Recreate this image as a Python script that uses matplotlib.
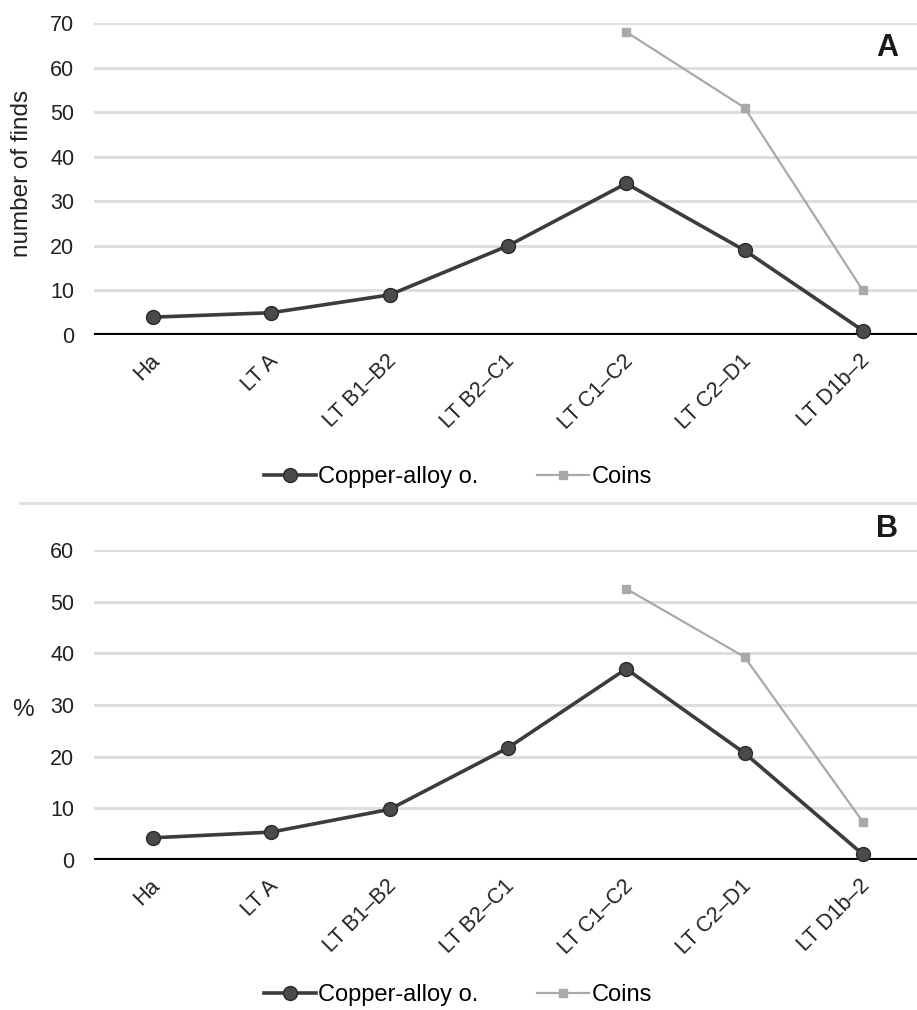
import matplotlib
matplotlib.use("Agg")
import matplotlib.pyplot as plt
from matplotlib import font_manager
from matplotlib.lines import Line2D
from matplotlib.transforms import ScaledTranslation

periods = ["Ha", "LT A", "LT B1–B2", "LT B2–C1", "LT C1–C2", "LT C2–D1", "LT D1b–2"]

# panel A: number of finds
copper_counts = [4, 5, 9, 20, 34, 19, 1]
coin_counts = [None, None, None, None, 68, 51, 10]

# panel B: share in %
copper_pct = [4.3, 5.4, 9.8, 21.7, 37.0, 20.7, 1.1]
coin_pct = [None, None, None, None, 52.5, 39.3, 7.4]

COPPER = "#3c3c3c"
COINS = "#a9a9a9"
GRID = "#dedede"

plt.rcParams["font.family"] = ["Liberation Sans", "DejaVu Sans"]
installed = {f.name for f in font_manager.fontManager.ttflist}
label_font = "Liberation Sans Narrow" if "Liberation Sans Narrow" in installed else "Liberation Sans"

fig = plt.figure(figsize=(9.17, 10.10), dpi=100)


def to_xy(values):
    xs = [i for i, v in enumerate(values) if v is not None]
    ys = [v for v in values if v is not None]
    return xs, ys


def draw_panel(rect, copper, coins, ymax, ylabel, ylabel_pos, tag, tag_pos, legend_y):
    ax = fig.add_axes(rect)
    ax.set_xlim(-0.5, 6.5)
    ax.set_ylim(0, ymax)
    for y in range(10, ymax + 1, 10):
        ax.axhline(y, color=GRID, lw=2.2, zorder=0)
    ax.axhline(0, color="black", lw=3, zorder=1)

    cx, cy = to_xy(coins)
    ax.plot(cx, cy, color=COINS, lw=1.6, marker="s", ms=6, mec=COINS, mfc=COINS,
            zorder=2, clip_on=False, label="Coins")
    kx, ky = to_xy(copper)
    ax.plot(kx, ky, color=COPPER, lw=2.6, marker="o", ms=10, mec="#2a2a2a", mfc="#4a4a4a",
            zorder=3, clip_on=False, label="Copper-alloy o.")

    ax.set_yticks(range(0, ymax + 1, 10))
    ax.set_xticks(range(len(periods)))
    ax.set_xticklabels(periods, rotation=45, ha="right", rotation_mode="anchor")
    ax.tick_params(axis="both", length=0, labelsize=15.5, colors="#222222")
    ax.tick_params(axis="y", pad=14)
    ax.tick_params(axis="x", pad=11)
    shift = ScaledTranslation(-4 / 100, 0, fig.dpi_scale_trans)
    for lbl in ax.get_xticklabels():
        lbl.set_transform(lbl.get_transform() + shift)
    for s in ax.spines.values():
        s.set_visible(False)

    fig.text(ylabel_pos[0], ylabel_pos[1], ylabel, rotation=90 if len(ylabel) > 1 else 0,
             ha="center", va="center", fontsize=17.5, color="#222222")
    fig.text(tag_pos[0], tag_pos[1], tag, ha="center", va="center", fontsize=22,
             fontweight="bold", family=label_font, color="#1a1a1a")

    handles, labels = ax.get_legend_handles_labels()
    fig.legend(handles[::-1], labels[::-1], loc="center", ncol=2, frameon=False,
               bbox_to_anchor=(458 / 917, 1 - legend_y / 1010), fontsize=17,
               handlelength=2.2, handletextpad=0.1, columnspacing=2.5)
    return ax


left = 93.8 / 917
width = (922 - 93.8) / 917
draw_panel([left, (1010 - 335) / 1010, width, 312 / 1010], copper_counts, coin_counts, 70,
           "number of finds", (22 / 917, 1 - 173 / 1010), "A", (887 / 917, 1 - 48 / 1010), 477)
draw_panel([left, (1010 - 860) / 1010, width, 310 / 1010], copper_pct, coin_pct, 60,
           "%", (23 / 917, 1 - 710 / 1010), "B", (887 / 917, 1 - 529 / 1010), 995)

# faint separator between the two panels
fig.add_artist(Line2D([20 / 917, 1], [1 - 503 / 1010] * 2, color=GRID, lw=2))

fig.savefig("out.png", dpi=100, facecolor="white")
